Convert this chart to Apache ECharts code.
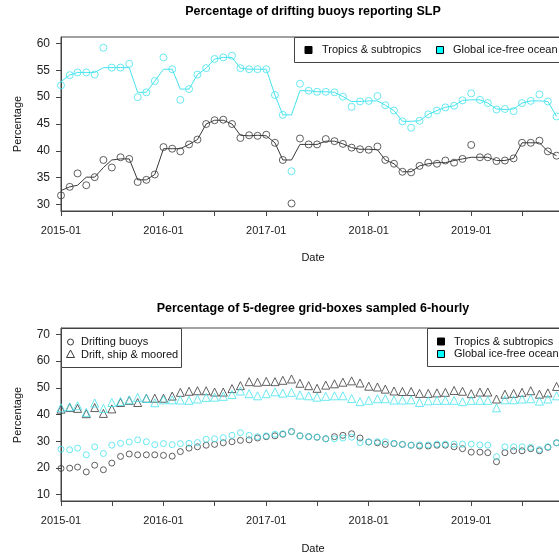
<!DOCTYPE html>
<html>
<head>
<meta charset="utf-8">
<script src="https://cdn.jsdelivr.net/npm/echarts@6/dist/echarts.min.js"></script>
<style>
  html, body { margin: 0; padding: 0; overflow: hidden; background: #fff; }
  #main { width: 626px; height: 554px; }
</style>
</head>
<body>
<div id="main"></div>
<script>
// month starts, 2015-01 .. 2019-11
const firstMonth = '2015-01';
const monthCount = 59;

// axis ticks / labels
const halfYearTicks = ['2015-01', '2015-07', '2016-01', '2016-07', '2017-01', '2017-07', '2018-01', '2018-07', '2019-01', '2019-07'];
const yearLabels = ['2015-01', '2016-01', '2017-01', '2018-01', '2019-01'];
const topYTicks = [30, 35, 40, 45, 50, 55, 60];
const bottomYTicks = [10, 20, 30, 40, 50, 60, 70];

// top panel: % drifting buoys reporting SLP
const slpTropics = [31.7, 33.3, 35.8, 33.6, 35.1, 38.3, 36.9, 38.8, 38.5, 34.2, 34.6, 35.6,
  40.7, 40.4, 39.9, 41.2, 42.1, 45.0, 45.7, 45.8, 45.0, 42.4, 42.9, 42.8,
  43.0, 41.5, 38.3, 30.2, 42.3, 41.2, 41.2, 42.2, 41.8, 41.3, 40.6, 40.3,
  40.2, 40.8, 38.3, 37.6, 36.1, 36.0, 37.2, 37.8, 37.6, 38.2, 37.8, 38.5,
  41.1, 38.8, 38.8, 38.1, 38.2, 38.6, 41.5, 41.5, 41.9, 39.9, 39.1];
const slpTropicsSmooth = [32.6, 33.3, 33.6, 35.1, 35.1, 36.9, 38.3, 38.5, 38.5, 34.6, 34.6, 35.6,
  40.4, 40.4, 40.4, 41.2, 42.1, 45.0, 45.7, 45.7, 45.0, 42.9, 42.8, 42.9,
  42.8, 41.5, 38.3, 38.3, 41.2, 41.2, 41.2, 41.8, 41.8, 41.3, 40.6, 40.3,
  40.3, 40.2, 38.3, 37.6, 36.1, 36.1, 37.2, 37.6, 37.8, 37.8, 38.2, 38.5,
  38.8, 38.8, 38.8, 38.2, 38.2, 38.6, 41.5, 41.5, 41.5, 39.9, 39.1];
const slpGlobal = [52.2, 54.1, 54.6, 54.6, 54.2, 59.2, 55.5, 55.5, 56.2, 50.0, 50.9, 53.0,
  57.4, 55.2, 49.5, 51.5, 54.2, 55.4, 57.1, 57.4, 57.7, 55.4, 55.2, 55.2,
  55.2, 50.4, 46.7, 36.2, 52.5, 51.2, 51.0, 51.0, 50.9, 50.1, 48.2, 49.2,
  49.3, 50.2, 48.5, 47.5, 45.5, 44.3, 45.6, 46.8, 47.5, 48.1, 48.4, 49.4,
  50.7, 49.5, 48.9, 47.7, 47.8, 47.4, 48.9, 49.3, 50.5, 49.2, 46.4];
const slpGlobalSmooth = [52.9, 54.1, 54.6, 54.6, 54.6, 55.5, 55.5, 55.5, 55.5, 50.9, 50.9, 53.0,
  55.2, 55.2, 51.5, 51.5, 54.2, 55.4, 57.1, 57.4, 57.4, 55.4, 55.2, 55.2,
  55.2, 50.4, 46.7, 46.7, 51.2, 51.2, 51.0, 51.0, 50.9, 50.1, 49.2, 49.2,
  49.3, 49.3, 48.5, 47.5, 45.5, 45.5, 45.6, 46.8, 47.5, 48.1, 48.4, 49.4,
  49.5, 49.5, 48.9, 47.8, 47.7, 47.8, 48.9, 49.3, 49.3, 49.2, 46.4];

// bottom panel: % 5-degree grid-boxes sampled 6-hourly
const buoyTropics = [19.8, 19.9, 20.3, 18.5, 21.0, 19.3, 21.8, 24.3, 25.2, 24.9, 24.9, 24.9,
  24.7, 24.4, 26.1, 27.4, 27.9, 28.5, 28.8, 29.4, 29.8, 30.3, 30.5, 31.2,
  31.7, 32.0, 32.6, 33.6, 32.0, 31.7, 31.5, 30.9, 31.7, 32.2, 32.8, 31.2,
  29.7, 29.4, 28.8, 29.1, 28.8, 28.5, 28.2, 28.2, 28.5, 28.5, 27.9, 27.2,
  25.9, 25.9, 25.7, 22.3, 25.7, 26.4, 26.4, 27.2, 26.4, 27.7, 29.4];
const buoyGlobal = [27.0, 26.8, 27.4, 24.9, 27.9, 25.4, 28.5, 29.2, 29.7, 30.5, 29.8, 28.7,
  29.1, 28.7, 29.1, 29.2, 29.5, 30.7, 30.9, 31.3, 32.2, 33.2, 32.2, 31.7,
  32.0, 32.6, 32.8, 33.6, 32.0, 31.7, 31.5, 30.9, 30.9, 31.2, 31.5, 29.5,
  29.7, 29.8, 29.8, 29.2, 28.8, 28.5, 28.6, 28.6, 28.9, 28.9, 28.9, 28.9,
  28.9, 28.6, 28.5, 24.2, 27.9, 27.9, 27.9, 27.7, 26.9, 27.9, 29.4];
const allTropics = [42.0, 42.6, 42.3, 40.3, 42.6, 40.4, 42.1, 44.5, 45.3, 44.5, 46.1, 46.1,
  46.1, 46.9, 48.3, 48.7, 48.9, 48.9, 48.4, 48.4, 49.7, 50.8, 52.3, 52.1,
  52.4, 52.3, 52.8, 53.3, 51.7, 50.8, 49.8, 51.0, 51.5, 52.1, 52.6, 51.8,
  50.6, 50.3, 49.5, 48.8, 48.6, 48.6, 47.9, 47.9, 48.1, 48.3, 49.0, 48.7,
  47.8, 48.4, 48.4, 45.8, 47.6, 47.9, 48.3, 48.9, 47.6, 48.1, 50.5];
const allGlobal = [42.5, 42.9, 43.3, 40.8, 44.3, 42.3, 44.5, 44.9, 45.5, 46.4, 46.0, 44.4,
  45.5, 45.5, 45.4, 45.3, 45.8, 46.4, 46.5, 46.8, 47.5, 48.8, 47.8, 47.0,
  47.8, 48.5, 48.0, 48.3, 47.3, 47.0, 46.5, 46.8, 47.0, 47.0, 46.0, 44.8,
  45.3, 45.9, 45.9, 45.4, 45.4, 45.5, 44.5, 45.1, 45.3, 45.3, 45.3, 44.8,
  45.3, 45.3, 45.3, 42.5, 45.5, 45.5, 45.8, 45.9, 45.0, 45.8, 47.0];

const FONT = "'Liberation Sans', Arial, sans-serif";
const DARK = '#3a3a3a';
const CYAN = '#45e3ee';
const AXIS = '#444';

function toTime(s) {
  const p = s.split('-');
  return new Date(+p[0], +p[1] - 1, 1).getTime();
}
const start = new Date(toTime(firstMonth));
const monthDates = [];
for (let i = 0; i < monthCount; i++) {
  monthDates.push(new Date(start.getFullYear(), start.getMonth() + i, 1).getTime());
}
function pairs(vals) {
  return vals.map((v, i) => [monthDates[i], v]);
}
function fmtMonth(v) {
  const d = new Date(v);
  const m = d.getMonth() + 1;
  return d.getFullYear() + '-' + (m < 10 ? '0' + m : m);
}

// dates are kept as timestamps on a plain value axis
function makeX(gridIndex) {
  return {
    type: 'value', gridIndex: gridIndex,
    min: toTime('2015-01'), max: toTime('2019-12'),
    axisLine: { show: true, onZero: false, lineStyle: { color: AXIS, width: 1 } },
    axisTick: { show: true, length: 5, lineStyle: { color: AXIS }, customValues: halfYearTicks.map(toTime) },
    axisLabel: {
      customValues: yearLabels.map(toTime), formatter: fmtMonth, margin: 14,
      color: '#222', fontSize: 11, fontFamily: FONT, hideOverlap: false
    },
    splitLine: { show: false }
  };
}
function makeY(gridIndex, min, max, ticks) {
  return {
    type: 'value', gridIndex: gridIndex, min: min, max: max,
    axisLine: { show: true, onZero: false, lineStyle: { color: AXIS, width: 1 } },
    axisTick: { show: true, length: 5, lineStyle: { color: AXIS }, customValues: ticks },
    axisLabel: { customValues: ticks, margin: 11, color: '#222', fontSize: 12, fontFamily: FONT },
    splitLine: { show: false }
  };
}
function dots(name, xi, vals, color, symbol, size) {
  return {
    name: name, type: 'scatter', xAxisIndex: xi, yAxisIndex: xi,
    data: pairs(vals), symbol: symbol, symbolSize: size,
    itemStyle: { color: 'transparent', borderColor: color, borderWidth: 1 },
    emphasis: { disabled: true }
  };
}
function line(name, vals, color) {
  return {
    name: name, type: 'line', xAxisIndex: 0, yAxisIndex: 0,
    data: pairs(vals), showSymbol: false, symbol: 'none',
    lineStyle: { color: color, width: 1 }, emphasis: { disabled: true }
  };
}

// legend pieces drawn as graphics
function txt(x, y, s, align, rot) {
  return {
    type: 'text', x: x, y: y, z: 101, rotation: rot || 0,
    style: { text: s, fill: '#111', font: '11px ' + FONT, textAlign: align || 'left', textVerticalAlign: 'middle' }
  };
}
function box(x, y, w, h) {
  return { type: 'rect', z: 100, shape: { x: x, y: y, width: w, height: h },
    style: { fill: '#fff', stroke: AXIS, lineWidth: 1 } };
}
function square(cx, cy, fill) {
  return { type: 'rect', z: 101, shape: { x: cx - 3.5, y: cy - 3.5, width: 7, height: 7 },
    style: { fill: fill, stroke: '#000', lineWidth: 1 } };
}

const graphics = [
  // axis names
  txt(18, 124, 'Percentage', 'center', Math.PI / 2),
  txt(18, 415, 'Percentage', 'center', Math.PI / 2),
  txt(313, 258, 'Date', 'center'),
  txt(313, 549, 'Date', 'center'),
  // top legend
  box(294.5, 37.5, 271, 25),
  square(308.5, 50, '#000'), txt(322, 50, 'Tropics & subtropics'),
  square(440, 50, '#00ffff'), txt(453, 50, 'Global ice-free ocean'),
  // bottom-left legend
  box(61.5, 328.5, 120, 39),
  { type: 'circle', z: 101, shape: { cx: 70.5, cy: 342, r: 3 }, style: { fill: 'none', stroke: DARK, lineWidth: 1 } },
  txt(81, 342, 'Drifting buoys'),
  { type: 'polygon', z: 101, shape: { points: [[70.5, 350], [74.5, 357.5], [66.5, 357.5]] }, style: { fill: 'none', stroke: DARK, lineWidth: 1 } },
  txt(81, 354.5, 'Drift, ship & moored'),
  // bottom-right legend
  box(427.5, 328.5, 138, 38),
  square(441, 341.5, '#000'), txt(454, 341.5, 'Tropics & subtropics'),
  square(441, 354, '#00ffff'), txt(454, 354, 'Global ice-free ocean')
];

const chart = echarts.init(document.getElementById('main'), null, { renderer: 'canvas' });
chart.setOption({
  animation: false,
  backgroundColor: '#fff',
  textStyle: { fontFamily: FONT },
  title: [
    { text: 'Percentage of drifting buoys reporting SLP', left: 'center', top: 5, padding: 0,
      textStyle: { fontSize: 12.5, fontWeight: 'bold', color: '#000', fontFamily: FONT } },
    { text: 'Percentage of 5-degree grid-boxes sampled 6-hourly', left: 'center', top: 302.5, padding: 0,
      textStyle: { fontSize: 12.5, fontWeight: 'bold', color: '#000', fontFamily: FONT } }
  ],
  grid: [
    { left: 61, top: 37, width: 504, height: 174, show: true, borderColor: AXIS, borderWidth: 1, backgroundColor: 'transparent' },
    { left: 61, top: 328, width: 504, height: 173, show: true, borderColor: AXIS, borderWidth: 1, backgroundColor: 'transparent' }
  ],
  xAxis: [makeX(0), makeX(1)],
  yAxis: [makeY(0, 28.8, 61.2, topYTicks), makeY(1, 7.6, 72.4, bottomYTicks)],
  graphic: graphics,
  series: [
    line('Tropics & subtropics (smoothed)', slpTropicsSmooth, DARK),
    dots('Tropics & subtropics', 0, slpTropics, DARK, 'circle', 7),
    line('Global ice-free ocean (smoothed)', slpGlobalSmooth, CYAN),
    dots('Global ice-free ocean', 0, slpGlobal, CYAN, 'circle', 7),
    dots('Drifting buoys, tropics', 1, buoyTropics, DARK, 'circle', 6),
    dots('Drifting buoys, global', 1, buoyGlobal, CYAN, 'circle', 6),
    dots('Drift, ship & moored, tropics', 1, allTropics, DARK, 'triangle', 8),
    dots('Drift, ship & moored, global', 1, allGlobal, CYAN, 'triangle', 8)
  ]
});
</script>
</body>
</html>
